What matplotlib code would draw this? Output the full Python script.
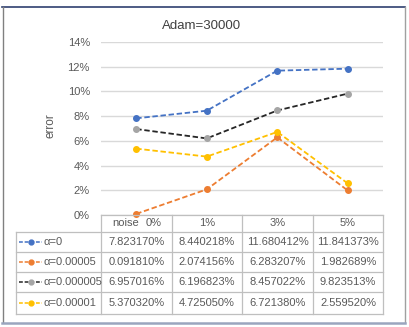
import matplotlib
matplotlib.use("Agg")
import matplotlib.pyplot as plt
from matplotlib.lines import Line2D

plt.rcParams['font.family'] = ['Liberation Sans Narrow', 'Liberation Sans', 'DejaVu Sans']

title = "Adam=30000"
noise_labels = ["0%", "1%", "3%", "5%"]
series_names = ["α=0", "α=0.00005", "α=0.000005", "α=0.00001"]
s_alpha0 = [7.823170, 8.440218, 11.680412, 11.841373]
s_alpha5e5 = [0.091810, 2.074156, 6.283207, 1.982689]
s_alpha5e6 = [6.957016, 6.196823, 8.457022, 9.823513]
s_alpha1e5 = [5.370320, 4.725050, 6.721380, 2.559520]
series_values = [s_alpha0, s_alpha5e5, s_alpha5e6, s_alpha1e5]
line_colors = ["#4472C4", "#ED7D31", "#262626", "#FFC000"]
marker_colors = ["#4472C4", "#ED7D31", "#A5A5A5", "#FFC000"]
yticks = [0, 2, 4, 6, 8, 10, 12, 14]

W, H = 409, 327
fig = plt.figure(figsize=(W / 100, H / 100), dpi=100)
fig.patch.set_facecolor("white")

def fx(x):
    return x / W

def fy(y):
    return 1 - y / H

txt = "#595959"
grid = "#D9D9D9"
tbl = "#BFBFBF"

# plot area
L, R, T, B = 101, 383, 42, 215
ax = fig.add_axes([fx(L), fy(B), (R - L) / W, (B - T) / H])
ax.set_xlim(-0.5, 3.5)
ax.set_ylim(0, 14)
for s in ax.spines.values():
    s.set_visible(False)
ax.set_xticks([])
ax.set_yticks(yticks)
ax.set_yticklabels([f"{v}%" for v in yticks], color=txt, fontsize=8)
ax.tick_params(axis='y', length=0, pad=8)
ax.yaxis.grid(True, color=grid, lw=1)
ax.set_axisbelow(True)
xs = list(range(len(noise_labels)))
for vals, lc, mc in zip(series_values, line_colors, marker_colors):
    ax.plot(xs, vals, ls=(0, (3, 1.5)), color=lc, lw=1.3, marker='o',
            markersize=4, markerfacecolor=mc, markeredgecolor=mc, clip_on=False, zorder=3)

fig.text(fx(202), fy(26), title, ha='center', va='center', fontsize=9.5, color="#404040")
fig.text(fx(50), fy(126), "error", ha='center', va='center', rotation=90, fontsize=8.5, color=txt)

# table
col_x = [101, 172, 242, 313, 383]
row_y = [215, 232, 252, 272, 292, 314]
tleft = 16
def hline(x0, x1, y, c=tbl, lw=0.9):
    fig.add_artist(Line2D([fx(x0), fx(x1)], [fy(y), fy(y)], color=c, lw=lw))
def vline(x, y0, y1, c=tbl, lw=0.9):
    fig.add_artist(Line2D([fx(x), fx(x)], [fy(y0), fy(y1)], color=c, lw=lw))

hline(col_x[0], col_x[-1], row_y[0])
for y in row_y[1:]:
    hline(tleft, col_x[-1], y)
vline(tleft, row_y[1], row_y[-1])
for x in col_x:
    vline(x, row_y[0], row_y[-1])

hy = (row_y[0] + row_y[1]) / 2
fig.text(fx(112), fy(hy), "noise", ha='left', va='center', fontsize=8, color=txt)
for i, lab in enumerate(noise_labels):
    if i == 0:
        fig.text(fx(162), fy(hy), lab, ha='right', va='center', fontsize=8, color=txt)
    else:
        cx = (col_x[i] + col_x[i + 1]) / 2
        fig.text(fx(cx), fy(hy), lab, ha='center', va='center', fontsize=8, color=txt)

for r, (name, vals, lc, mc) in enumerate(zip(series_names, series_values, line_colors, marker_colors)):
    cy = (row_y[r + 1] + row_y[r + 2]) / 2
    fig.add_artist(Line2D([fx(19), fx(42)], [fy(cy), fy(cy)], color=lc, lw=1.1, ls=(0, (2.5, 1.2))))
    fig.add_artist(Line2D([fx(31)], [fy(cy)], marker='o', markersize=3.5, color=mc, ls='none'))
    fig.text(fx(44), fy(cy), name, ha='left', va='center', fontsize=8, color=txt)
    for i, v in enumerate(vals):
        cx = (col_x[i] + col_x[i + 1]) / 2
        fig.text(fx(cx), fy(cy), f"{v:.6f}%", ha='center', va='center', fontsize=8, color=txt)

# outer border
fig.add_artist(Line2D([fx(2), fx(405)], [fy(7), fy(7)], color="#2F3F6F", lw=1.2))
fig.add_artist(Line2D([fx(2.5), fx(2.5)], [fy(7), fy(322)], color="#808080", lw=1.0))
fig.add_artist(Line2D([fx(404.5), fx(404.5)], [fy(7), fy(322)], color="#A0A0A0", lw=1.0))
fig.add_artist(Line2D([fx(2), fx(405)], [fy(322.5), fy(322.5)], color="#9AA5BE", lw=1.8))

fig.savefig("out.png", dpi=100, facecolor="white")
